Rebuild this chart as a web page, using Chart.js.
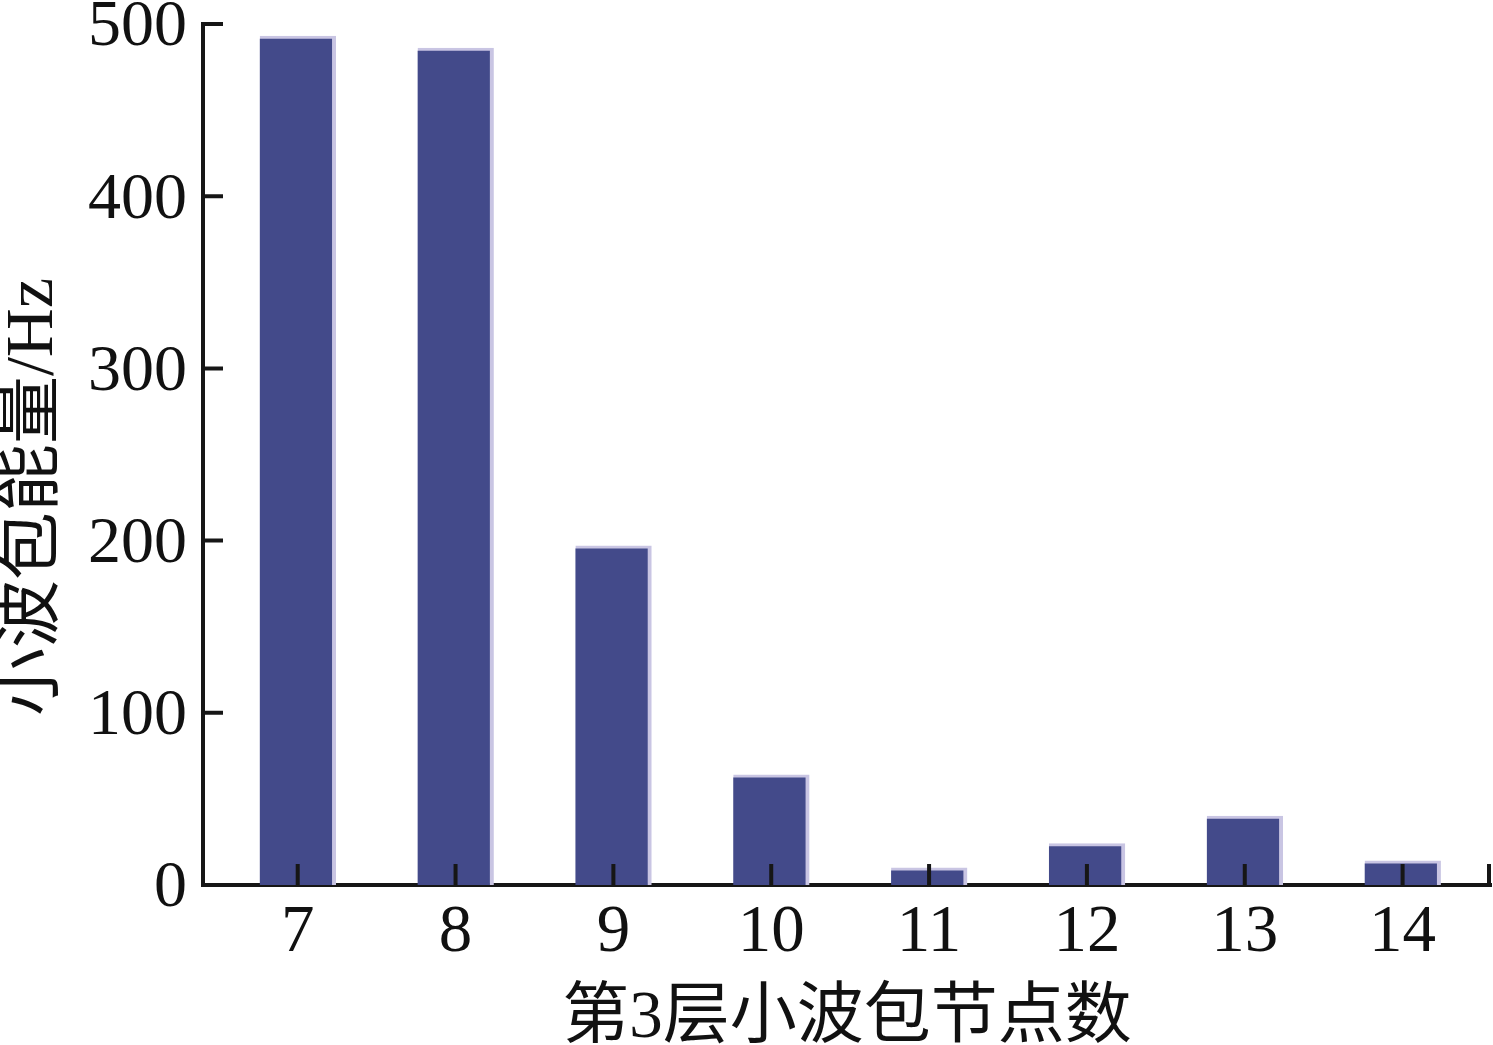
<!DOCTYPE html>
<html>
<head>
<meta charset="utf-8">
<script src="https://cdn.jsdelivr.net/npm/chart.js@4"></script>
<style>
  html, body { margin: 0; padding: 0; background: #ffffff; }
  canvas { display: block; }
</style>
</head>
<body>
<canvas id="c" width="1493" height="1045"></canvas>
<script>
// ---- data ----
const categories = [7, 8, 9, 10, 11, 12, 13, 14];
const energyValues = [493, 486, 197, 64, 10, 24, 40, 14];
const yTickValues = [0, 100, 200, 300, 400, 500];
const xTickValues = [7, 8, 9, 10, 11, 12, 13, 14];
const xTitle = '第3层小波包节点数';
const yTitle = '小波包能量/Hz';

const FONT = '"Liberation Serif", "Times New Roman", "Noto Sans CJK SC", serif';
const AXIS = '#161616';

const innerTicks = {
  id: 'innerTicks',
  afterDraw(chart) {
    const { ctx, scales: { x, y } } = chart;
    ctx.save();
    ctx.strokeStyle = AXIS;
    ctx.lineWidth = 4;
    ctx.beginPath();
    x.ticks.forEach(t => {
      const px = x.getPixelForValue(t.value);
      ctx.moveTo(px, x.top);
      ctx.lineTo(px, x.top - 21);
    });
    ctx.moveTo(x.right - 2, x.top);
    ctx.lineTo(x.right - 2, x.top - 21);
    y.ticks.forEach(t => {
      const py = y.getPixelForValue(t.value);
      ctx.moveTo(y.right, py);
      ctx.lineTo(y.right + 20, py);
    });
    ctx.stroke();
    ctx.restore();
  }
};

new Chart(document.getElementById('c'), {
  type: 'bar',
  data: {
    datasets: [{
      data: categories.map((c, i) => ({ x: c, y: energyValues[i] })),
      backgroundColor: '#434a8a',
      borderColor: '#c9c5e3',
      borderWidth: { top: 3, right: 4, left: 0, bottom: 0 },
      borderSkipped: false,
      barThickness: 76
    }]
  },
  options: {
    responsive: false,
    animation: false,
    layout: { padding: { top: 24, right: 2, left: 0, bottom: 0 } },
    plugins: { legend: { display: false }, tooltip: { enabled: false } },
    scales: {
      x: {
        type: 'linear',
        offset: false,
        min: 6.4,
        max: 14.56,
        afterBuildTicks: s => { s.ticks = xTickValues.map(v => ({ value: v })); },
        afterFit: s => { s.height = 160; s.paddingLeft = 0; s.paddingRight = 0; },
        grid: { display: false, drawTicks: false, offset: false },
        border: { display: true, color: AXIS, width: 4 },
        ticks: {
          color: '#111',
          padding: 8,
          maxRotation: 0,
          autoSkip: false,
          font: { family: FONT, size: 67 },
          callback: v => String(v)
        },
        title: {
          display: true,
          text: xTitle,
          color: '#111',
          font: { family: FONT, size: 67, lineHeight: 1 },
          padding: { top: 0, bottom: -8 }
        }
      },
      y: {
        min: 0,
        max: 500,
        afterBuildTicks: s => { s.ticks = yTickValues.map(v => ({ value: v })); },
        afterFit: s => { s.width = 203; s.paddingTop = 0; s.paddingBottom = 0; },
        grid: { display: false, drawTicks: false },
        border: { display: true, color: AXIS, width: 4 },
        ticks: {
          color: '#111',
          padding: 16,
          labelOffset: 4,
          autoSkip: false,
          font: { family: FONT, size: 66 },
          callback: v => String(v)
        },
        title: {
          display: true,
          text: yTitle + '\u3000 ',
          color: '#111',
          font: { family: FONT, size: 68, lineHeight: 1 },
          padding: { top: 0, bottom: 0 }
        }
      }
    }
  },
  plugins: [innerTicks]
});
</script>
</body>
</html>
